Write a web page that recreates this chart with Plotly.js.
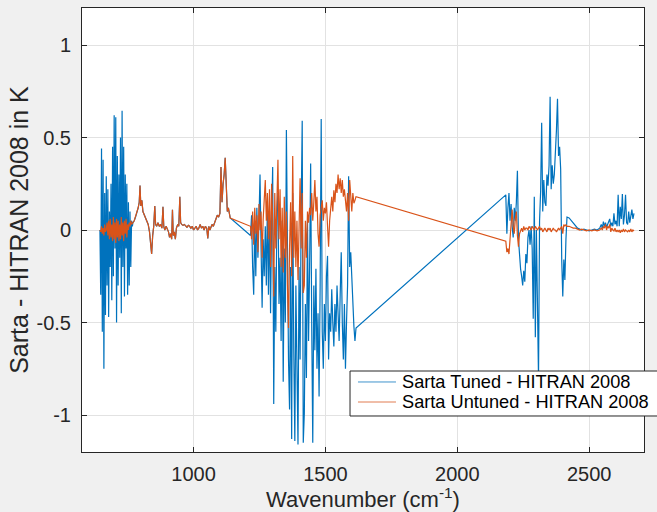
<!DOCTYPE html>
<html>
<head>
<meta charset="utf-8">
<script src="https://cdn.plot.ly/plotly-3.0.1.min.js"></script>
<style>html,body{margin:0;padding:0;background:#f0f0f0;}#chart{width:657px;height:512px;}</style>
</head>
<body>
<div id="chart"></div>
<script>
// Segment 1: 645-768 cm-1
var wn1 = [645,648,651,654,657,660,663,666,669,672,675,678,681,684,687,690,693,696,699,702,705,708,711,714,717,720,723,726,729,732,735,738,741,744,747,750,753,756,759,762,765,768];
var tuned1 = [0.00,-0.35,0.44,-0.55,0.38,-0.75,0.20,-0.46,0.29,-0.30,0.22,-0.47,0.10,-0.20,0.25,-0.38,0.45,-0.25,0.62,-0.10,0.61,-0.50,0.40,-0.30,0.30,-0.15,0.50,-0.45,0.645,-0.20,0.45,-0.36,0.30,-0.10,0.25,-0.35,0.15,-0.30,0.10,-0.20,0.05,0.02];
var untuned1 = [0.00,-0.01,0.02,-0.02,0.01,-0.03,0.03,-0.01,0.00,0.04,-0.03,0.05,-0.05,0.06,-0.04,0.03,-0.06,0.07,-0.05,0.04,-0.07,0.06,-0.04,0.05,-0.06,0.03,-0.05,0.07,-0.03,0.04,-0.06,0.05,-0.02,0.06,-0.04,0.03,0.00,0.04,0.02,0.05,0.03,0.04];

// Segment 2: 770-1139 cm-1 (both series coincide)
var wn2 = [770,775,780,785,790,794,797,800,804,808,813,818,823,828,833,837,841,845,849,853,856,860,865,870,875,880,884,887,891,896,900,905,909,913,917,920,923,927,931,935,940,944,948,951,955,960,965,970,975,980,985,990,995,1000,1005,1010,1015,1020,1025,1030,1035,1040,1045,1050,1054,1058,1062,1066,1070,1075,1080,1085,1090,1095,1100,1104,1108,1112,1116,1120,1124,1128,1132,1136,1139];
var both2 = [0.04,0.05,0.07,0.09,0.12,0.15,0.24,0.13,0.16,0.10,0.08,0.06,0.04,0.03,-0.01,-0.06,-0.13,-0.03,0.02,0.13,0.03,0.02,0.04,0.02,0.03,0.01,0.125,0.02,0.00,0.02,0.01,-0.01,-0.04,-0.02,-0.05,0.11,-0.03,-0.01,-0.05,0.01,0.03,0.02,0.18,0.04,0.03,0.025,0.03,0.02,0.015,0.025,0.02,0.01,0.02,0.00,0.01,0.02,0.00,0.01,0.03,0.01,0.02,0.00,0.02,0.01,-0.045,0.02,0.00,0.02,0.03,0.02,0.04,0.05,0.08,0.07,0.09,0.34,0.15,0.25,0.30,0.39,0.20,0.10,0.12,0.07,0.065];

// Segment 3: 1216-1616 cm-1
var wn3 = [1216,1220,1224,1228,1232,1236,1240,1244,1248,1252,1256,1260,1264,1268,1272,1276,1280,1284,1288,1292,1296,1300,1304,1308,1312,1316,1320,1324,1328,1332,1336,1340,1344,1348,1352,1356,1360,1364,1368,1372,1376,1380,1384,1388,1392,1396,1400,1404,1408,1412,1416,1420,1424,1428,1432,1436,1440,1444,1448,1452,1456,1460,1464,1468,1472,1476,1480,1484,1488,1492,1496,1500,1504,1508,1512,1516,1520,1524,1528,1532,1536,1540,1544,1548,1552,1556,1560,1564,1568,1572,1576,1580,1584,1588,1592,1596,1600,1604,1608,1612,1616];
var tuned3 = [-0.03,0.08,-0.20,-0.35,0.05,-0.25,0.12,-0.15,0.05,0.30,-0.10,-0.42,-0.05,-0.25,0.02,-0.30,0.15,-0.35,0.10,-0.45,0.05,0.34,-0.94,-0.20,-0.55,0.10,0.20,-0.40,-0.15,-0.60,0.05,-0.82,-0.10,-0.50,0.54,-0.30,-0.70,-0.97,-0.20,-1.13,0.20,-0.65,-1.14,-0.30,-0.85,-1.16,-0.20,-0.70,0.10,0.59,-1.15,-0.99,-0.40,-0.80,0.05,-0.60,-0.20,0.36,-0.50,-1.15,-0.30,-0.65,-0.21,-0.75,-0.45,-0.90,-0.30,0.60,-0.55,-0.75,-0.40,-0.60,-0.25,-0.14,-0.70,-0.45,-0.55,-0.32,-0.50,-0.63,-0.40,-0.55,-0.30,-0.45,-0.60,-0.35,-0.12,-0.50,-0.70,-0.40,-0.75,-0.50,-0.30,0.29,-0.20,-0.12,-0.27,-0.45,-0.52,-0.60,-0.53];
var untuned3 = [0.02,-0.05,0.10,-0.08,0.12,-0.02,0.08,-0.12,0.14,0.00,0.10,-0.15,0.06,0.18,0.27,0.05,0.20,-0.05,0.22,-0.20,0.25,0.05,-0.36,0.20,-0.10,0.15,0.38,-0.05,0.22,-0.20,0.12,-0.23,0.18,-0.15,0.10,-0.30,-0.53,-0.10,0.15,-0.25,0.40,-0.15,0.10,-0.20,0.05,-0.27,0.15,0.28,-0.10,0.20,-0.34,-0.30,0.05,-0.15,0.10,0.04,0.12,0.08,0.20,0.05,0.15,0.27,0.10,0.18,-0.02,-0.09,0.08,0.12,0.16,0.05,0.12,0.09,0.15,0.02,-0.09,0.05,0.12,0.18,0.10,0.215,0.15,0.25,0.20,0.30,0.22,0.28,0.20,0.27,0.18,0.22,0.16,0.10,0.20,0.05,0.27,0.18,0.10,0.20,0.145,0.16,0.18];

// Segment 4: 2184-2416 cm-1
var wn4 = [2184,2188,2192,2196,2200,2204,2208,2212,2216,2220,2224,2228,2232,2236,2240,2244,2248,2252,2256,2260,2264,2268,2272,2276,2280,2284,2288,2292,2296,2300,2304,2308,2312,2316,2320,2324,2328,2332,2336,2340,2344,2348,2352,2356,2360,2364,2368,2372,2376,2380,2384,2388,2392,2396,2400,2404,2408,2412,2416];
var tuned4 = [0.19,-0.02,0.12,0.20,0.05,0.14,0.02,-0.04,0.12,0.05,0.15,0.32,-0.05,-0.15,-0.21,-0.25,-0.30,-0.22,-0.28,-0.13,-0.18,-0.04,0.00,-0.08,0.02,-0.10,-0.48,0.18,-0.58,0.00,-0.35,-0.80,0.05,0.21,0.58,0.10,0.27,0.15,0.13,0.30,0.24,0.35,0.72,0.22,0.35,0.25,0.30,0.40,0.54,0.71,0.40,0.45,0.33,-0.16,-0.36,-0.16,-0.27,-0.05,0.07];
var untuned4 = [-0.06,-0.12,-0.10,-0.13,-0.05,0.05,0.11,0.02,-0.02,0.06,0.10,-0.03,-0.09,-0.02,0.00,0.01,-0.01,0.02,0.00,0.01,0.01,0.00,0.02,0.01,0.00,0.02,0.01,0.00,0.02,0.01,0.00,0.01,0.02,0.00,0.01,-0.01,0.00,0.01,0.00,-0.01,0.01,0.00,0.01,-0.01,0.00,0.01,0.00,0.00,-0.01,0.00,0.01,0.00,0.01,0.02,-0.02,0.03,0.02,0.03,0.02];

// Segment 5: 2424-2670 cm-1
var wn5 = [2424,2432,2440,2448,2456,2464,2472,2480,2490,2500,2510,2520,2530,2540,2546,2550,2554,2558,2562,2566,2570,2574,2578,2582,2586,2590,2594,2598,2602,2606,2610,2614,2618,2622,2626,2630,2634,2638,2642,2646,2650,2654,2658,2662,2666,2670];
var tuned5 = [0.065,0.05,0.035,0.02,0.01,0.005,0.00,0.005,0.00,-0.005,0.00,0.005,0.00,0.01,0.03,0.01,0.045,0.02,0.04,0.015,0.03,0.05,0.06,0.02,0.04,0.02,0.09,0.03,0.05,0.02,0.19,0.02,0.125,0.06,0.195,0.03,0.08,0.19,0.04,0.03,0.10,0.04,0.07,0.11,0.06,0.09];
var untuned5 = [0.02,0.015,0.01,0.01,0.005,0.00,0.005,0.00,-0.005,0.00,-0.005,0.00,-0.005,0.00,0.01,0.00,0.02,0.01,0.03,0.00,0.02,0.01,0.03,-0.01,0.01,0.00,-0.005,0.01,-0.01,0.00,-0.01,0.00,-0.015,0.00,-0.01,0.005,-0.01,0.00,-0.005,-0.01,0.00,-0.01,0.005,-0.01,0.00,-0.005];

var xTicks = [1000,1500,2000,2500];
var xTickText = ['1000','1500','2000','2500'];
var yTicks = [-1,-0.5,0,0.5,1];
var yTickText = ['-1','-0.5','0','0.5','1'];
var seriesNames = ['Sarta Tuned - HITRAN 2008','Sarta Untuned - HITRAN 2008'];
var seriesColors = ['#0072BD','#D95319'];

var wnAll = [].concat(wn1, wn2, wn3, wn4, wn5);
var tunedAll = [].concat(tuned1, both2, tuned3, tuned4, tuned5);
var untunedAll = [].concat(untuned1, both2, untuned3, untuned4, untuned5);

var traces = [
  {x: wnAll, y: tunedAll, type: 'scatter', mode: 'lines', name: seriesNames[0],
   line: {color: seriesColors[0], width: 1.2}},
  {x: wnAll, y: untunedAll, type: 'scatter', mode: 'lines', name: seriesNames[1],
   line: {color: seriesColors[1], width: 1.2}}
];

var axisCommon = {
  showgrid: true, gridcolor: '#e2e2e2', gridwidth: 1,
  showline: true, linecolor: '#262626', linewidth: 1, mirror: 'ticks',
  ticks: 'inside', ticklen: 5, tickcolor: '#262626', zeroline: false,
  tickfont: {size: 20, color: '#262626'}
};

// Legend box drawn in paper coordinates (MATLAB-style legend)
var lgX0 = 0.4769, lgX1 = 1.03, lgY0 = 0.0811, lgY1 = 0.1824;
var lgRowY = [0.1577, 0.1126];
var shapes = [
  {type: 'rect', xref: 'paper', yref: 'paper', x0: lgX0, x1: lgX1, y0: lgY0, y1: lgY1,
   fillcolor: '#ffffff', line: {color: '#262626', width: 1}, layer: 'above'}
];
var annotations = [];
for (var i = 0; i < 2; i++) {
  shapes.push({type: 'line', xref: 'paper', yref: 'paper', x0: 0.4911, x1: 0.5587,
    y0: lgRowY[i], y1: lgRowY[i], line: {color: seriesColors[i], width: 1}, opacity: 0.75, layer: 'above'});
  annotations.push({xref: 'paper', yref: 'paper', x: 0.5660, y: lgRowY[i], xanchor: 'left', yanchor: 'middle',
    text: seriesNames[i], showarrow: false, font: {size: 18.2, color: '#000000'}});
}

var layout = {
  width: 657, height: 512,
  paper_bgcolor: '#f0f0f0', plot_bgcolor: '#ffffff',
  margin: {l: 82, r: 13, t: 8, b: 60},
  font: {family: '"Liberation Sans", Arial, Helvetica, sans-serif', color: '#262626', size: 20},
  xaxis: Object.assign({}, axisCommon, {
    range: [577, 2708], tickmode: 'array', tickvals: xTicks, ticktext: xTickText,
    ticklabelstandoff: 4,
    title: {text: 'Wavenumber (cm<sup>-1</sup>)', font: {size: 22, color: '#262626'}, standoff: 6}
  }),
  yaxis: Object.assign({}, axisCommon, {
    range: [-1.2, 1.2], tickmode: 'array', tickvals: yTicks, ticktext: yTickText,
    ticklabelstandoff: 6,
    title: {text: 'Sarta - HITRAN 2008 in K', font: {size: 25, color: '#262626'}, standoff: 0}
  }),
  showlegend: false,
  shapes: shapes,
  annotations: annotations
};

Plotly.newPlot('chart', traces, layout, {displayModeBar: false, staticPlot: true});
</script>
</body>
</html>
